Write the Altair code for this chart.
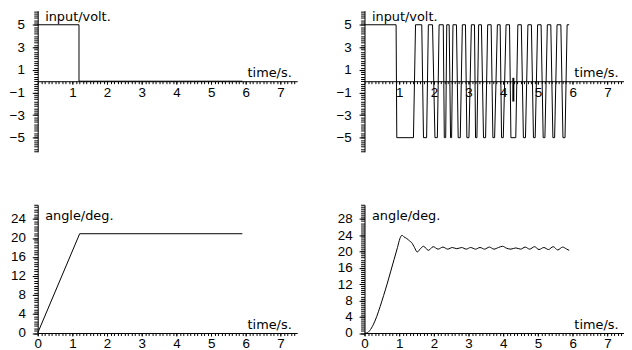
import altair as alt
import pandas as pd

# ---------------- data ----------------
# top-left: single input pulse (volt)
in1_t = [0.0, 1.19, 1.19, 5.9]
in1_v = [5, 5, 0, 0]

# top-right: switching input (volt), segments of constant level
seg_start = [0.00, 0.93, 1.47, 1.70, 1.84, 2.03, 2.15, 2.30, 2.37, 2.48, 2.55, 2.70,
             2.82, 2.95, 3.08, 3.20, 3.29, 3.43, 3.55, 3.70, 3.83, 3.95, 4.08, 4.22,
             4.42, 4.58, 4.71, 4.87, 4.99, 5.15, 5.27, 5.43, 5.55, 5.72, 5.84]
seg_end = [0.91, 1.41, 1.65, 1.79, 1.96, 2.10, 2.27, 2.34, 2.44, 2.51, 2.65, 2.76,
           2.91, 3.01, 3.17, 3.24, 3.37, 3.49, 3.65, 3.75, 3.91, 4.00, 4.18, 4.36,
           4.52, 4.64, 4.81, 4.92, 5.09, 5.20, 5.37, 5.48, 5.66, 5.78, 5.90]
seg_level = [5, -5] * 17 + [5]
glitch_t = [4.29]
glitch_lo = [-1.8]
glitch_hi = [0.3]

# bottom-left: angle response to single pulse (deg)
ang1_t = [0.0, 1.21, 5.9]
ang1_v = [0.0, 20.9, 20.9]

# bottom-right: angle response to switching input (deg)
ang2_t = [0.0, 0.06, 0.15, 0.25, 0.35, 0.45, 0.55, 0.65, 0.75, 0.85, 0.95, 1.02, 1.08,
          1.14, 1.22, 1.30, 1.36, 1.44, 1.52, 1.60, 1.70, 1.84, 1.98, 2.12, 2.26, 2.40,
          2.53, 2.66, 2.80, 2.93, 3.06, 3.20, 3.33, 3.46, 3.60, 3.73, 3.86, 3.98, 4.10,
          4.22, 4.36, 4.50, 4.63, 4.76, 4.90, 5.03, 5.17, 5.30, 5.44, 5.57, 5.71, 5.83, 5.90]
ang2_v = [0.0, 0.0, 0.6, 2.0, 4.0, 6.5, 9.2, 12.0, 15.0, 18.0, 21.0, 23.2, 24.0,
          23.6, 23.2, 22.6, 22.2, 21.0, 19.9, 20.6, 21.3, 20.3, 21.2, 20.6, 21.1, 20.6,
          21.0, 20.7, 21.0, 20.6, 21.0, 20.6, 21.0, 20.6, 21.1, 20.6, 21.0, 21.3, 20.8,
          20.6, 20.9, 20.6, 21.1, 20.6, 21.2, 20.5, 21.0, 20.5, 21.2, 20.4, 21.1, 20.6, 20.3]

# tick labels
x_major_top = [1, 2, 3, 4, 5, 6, 7]
x_major_bottom = [0, 1, 2, 3, 4, 5, 6, 7]
y_major_input = [5, 3, 1, -1, -3, -5]
y_major_ang1 = [0, 4, 8, 12, 16, 20, 24]
y_major_ang2 = [0, 4, 8, 12, 16, 20, 24, 28]

# ---------------- tables ----------------
df1 = pd.DataFrame({"t": in1_t, "v": in1_v, "i": range(len(in1_t))})
sq_t, sq_v = [], []
for s, e, lv in zip(seg_start, seg_end, seg_level):
    sq_t += [s, e]
    sq_v += [lv, lv]
df2 = pd.DataFrame({"t": sq_t, "v": sq_v, "i": range(len(sq_t))})
dg = pd.DataFrame({"t": glitch_t, "lo": glitch_lo, "hi": glitch_hi})
df3 = pd.DataFrame({"t": ang1_t, "v": ang1_v, "i": range(len(ang1_t))})
df4 = pd.DataFrame({"t": ang2_t, "v": ang2_v, "i": range(len(ang2_t))})

W = 262
XDOM = [0, 7.48]
x_minor = [round(k * 0.1, 1) for k in range(0, 75)]

LABEL_FONT = "Liberation Sans"
TITLE_FONT = "DejaVu Sans"


def panel(df, h, ydom, y_minor, y_major, x_major, ytitle, ytitle_y, xoff,
          ylabpad, xlabpad, interp="linear", extra=None):
    xs = alt.Scale(domain=XDOM, nice=False, zero=False)
    ys = alt.Scale(domain=ydom, nice=False, zero=False)
    base = alt.Chart(df)
    line = base.mark_line(color="black", strokeWidth=1, interpolate=interp).encode(
        x=alt.X("t:Q", scale=xs, axis=alt.Axis(
            orient="bottom", values=x_minor, labels=False, tickSize=2.5, offset=xoff,
            title="time/s.", titleX=W - 6, titleY=-5, titleAlign="right",
            titleBaseline="alphabetic", titleAngle=0)),
        y=alt.Y("v:Q", scale=ys, axis=alt.Axis(
            orient="left", values=y_minor, labels=False, tickSize=4,
            title=ytitle, titleAngle=0, titleX=7, titleY=ytitle_y,
            titleAlign="left", titleBaseline="alphabetic")),
        order="i:Q",
    )
    lab = base.mark_line(opacity=0).encode(
        x=alt.X("t:Q", scale=xs, axis=alt.Axis(
            orient="bottom", values=x_major, tickSize=3, domain=False, offset=xoff,
            labelPadding=xlabpad, labelFlush=False, labelOverlap=False, title=None)),
        y=alt.Y("v:Q", scale=ys, axis=alt.Axis(
            orient="left", values=y_major, tickSize=5.5, domain=False,
            labelPadding=ylabpad, labelFlush=False, labelOverlap=False, title=None)),
        order="i:Q",
    )
    layers = [line, lab]
    if extra is not None:
        layers.append(extra(xs, ys))
    return alt.layer(*layers).resolve_axis(x="independent", y="independent").properties(
        width=W, height=h)


def glitch(xs, ys):
    return alt.Chart(dg).mark_rule(color="black", strokeWidth=2).encode(
        x=alt.X("t:Q", scale=xs, axis=None),
        y=alt.Y("lo:Q", scale=ys, axis=None),
        y2="hi:Q",
    )


HT = 142.5
HB = 129.5
y_minor_in = [round(-6.2 + k * 0.2, 1) for k in range(0, 63)]
y_minor_a1 = [k * 0.5 for k in range(0, 55)]
y_minor_a2 = [k * 0.5 for k in range(0, 64)]

p1 = panel(df1, HT, [-6.25, 6.25], y_minor_in, y_major_input, x_major_top,
           "input/volt.", 9.5, -HT / 2, 8, 1)
p2 = panel(df2, HT, [-6.25, 6.25], y_minor_in, y_major_input, x_major_top,
           "input/volt.", 9.5, -HT / 2, 8, 1, extra=glitch)
p3 = panel(df3, HB, [0, 27], y_minor_a1, y_major_ang1, x_major_bottom,
           "angle/deg.", 15, 0, 7, 0.5)
p4 = panel(df4, HB, [0, 31.5], y_minor_a2, y_major_ang2, x_major_bottom,
           "angle/deg.", 15, 0, 7, 0.5, interp="monotone")

chart = alt.concat(p1, p2, p3, p4, columns=2, spacing={"row": 53, "column": 68},
                   bounds="flush").properties(
    padding={"left": 1, "top": 0, "right": 0, "bottom": 0},
    background="white",
).configure_view(strokeWidth=0).configure_axis(
    grid=False, domainColor="black", tickColor="black", labelColor="black",
    titleColor="black", domainWidth=1, tickWidth=1,
    labelFont=LABEL_FONT, labelFontSize=13.5, titleFont=TITLE_FONT,
    titleFontSize=13, titleFontWeight="normal",
)

chart.save("out.html", embed_options={"renderer": "svg", "actions": False})
